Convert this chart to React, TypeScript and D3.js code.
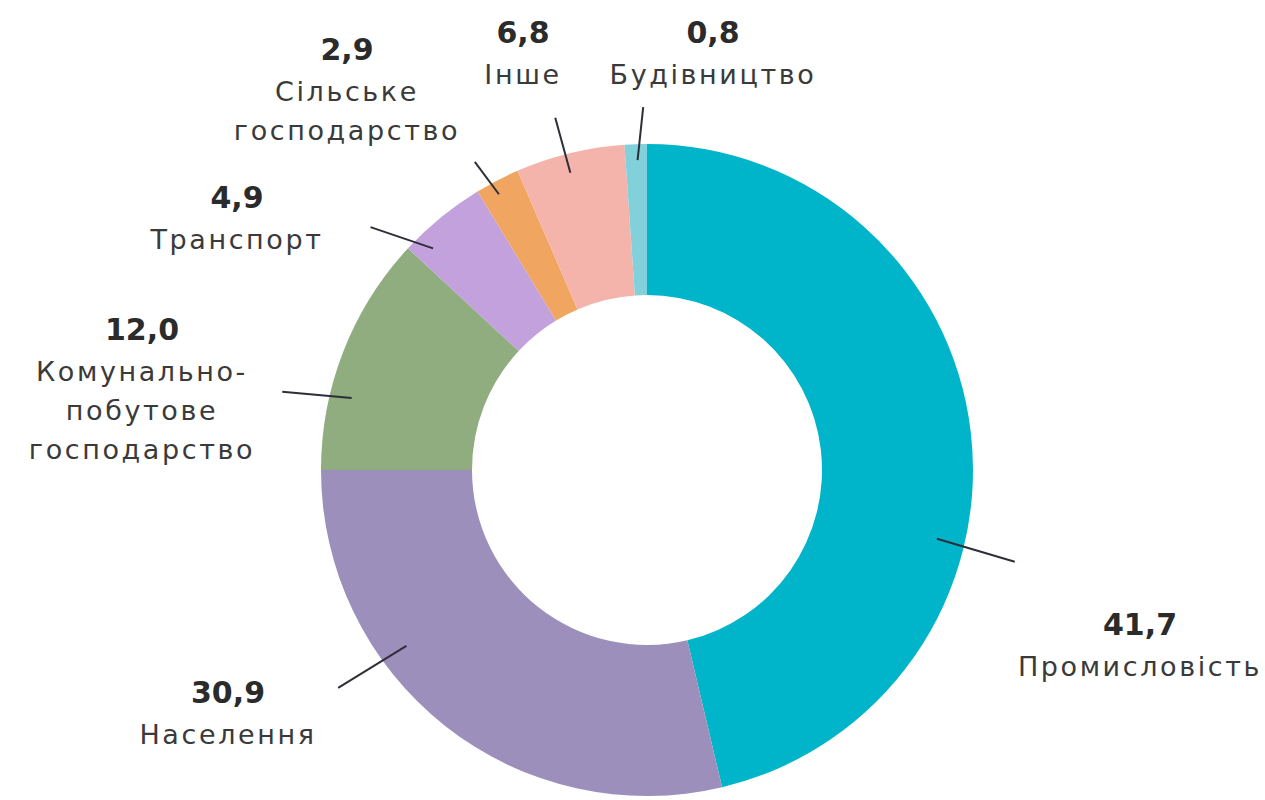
import React from "react";
import * as d3 from "d3";

// categories in drawing order (clockwise from 12 o'clock)
const categories = [
  "Промисловість",
  "Населення",
  "Комунально-побутове господарство",
  "Транспорт",
  "Сільське господарство",
  "Інше",
  "Будівництво",
];
// values printed in the labels
const labelValues = [41.7, 30.9, 12.0, 4.9, 2.9, 6.8, 0.8];
// share of the ring each slice takes in the picture
const arcShares = [46.3, 28.7, 11.9, 4.4, 2.2, 5.4, 1.1];
// label lines (category text split as in the picture)
const labelLines = [
  ["Промисловість"],
  ["Населення"],
  ["Комунально-", "побутове", "господарство"],
  ["Транспорт"],
  ["Сільське", "господарство"],
  ["Інше"],
  ["Будівництво"],
];

const colors = ["#00b4ca", "#9d8fbb", "#8fad7f", "#c3a1dc", "#f0a561", "#f5b4ab", "#82d0d9"];

// label placement: text anchor (number baseline) + leader line
const layout = [
  { x: 1140, y: 635, frac: 0.62, r0: 298, deg1: 104, r1: 379 },
  { x: 228, y: 703, frac: 0.65, r0: 298, deg1: 234.8, r1: 378 },
  { x: 142, y: 340, frac: 0.32, r0: 304, deg1: 282.1, r1: 373 },
  { x: 237, y: 208, frac: 0.2, r0: 308, deg1: 311.3, r1: 368 },
  { x: 347, y: 60, frac: 0.39, r0: 313, deg1: 330.8, r1: 353 },
  { x: 523, y: 43, frac: 0.46, r0: 307, deg1: 345.4, r1: 364 },
  { x: 713, y: 43, frac: 0.56, r0: 310, deg1: 359.4, r1: 363 },
];

const W = 1265;
const H = 800;
const cx = 647;
const cy = 470;
const outerR = 326;
const innerR = 175;
const FONT = "'DejaVu Sans', sans-serif";

const fmt = (v: number) => v.toFixed(1).replace(".", ",");

export default function App() {
  const pie = d3
    .pie<number>()
    .sort(null)
    .value((d) => d)
    .startAngle(0)
    .endAngle(2 * Math.PI);
  const arcs = pie(arcShares);
  const arc = d3.arc<d3.PieArcDatum<number>>().innerRadius(innerR).outerRadius(outerR);
  const toRad = (deg: number) => (deg * Math.PI) / 180;

  return (
    <>
      <style>{`body{margin:0}`}</style>
      <svg width={W} height={H} style={{ display: "block", background: "#fff" }}>
        <g transform={`translate(${cx},${cy})`}>
          {arcs.map((a, i) => (
            <path key={categories[i]} d={arc(a) ?? ""} fill={colors[i]} />
          ))}
          {arcs.map((a, i) => {
            const L = layout[i];
            const ang = a.startAngle + (a.endAngle - a.startAngle) * L.frac;
            const p0 = d3.pointRadial(ang, L.r0);
            const p1 = d3.pointRadial(toRad(L.deg1), L.r1);
            return (
              <line
                key={`l${i}`}
                x1={p0[0]}
                y1={p0[1]}
                x2={p1[0]}
                y2={p1[1]}
                stroke="#2e2e38"
                strokeWidth={2}
              />
            );
          })}
        </g>
        {categories.map((c, i) => {
          const L = layout[i];
          return (
            <g key={`t${i}`} fontFamily={FONT} textAnchor="middle">
              <text x={L.x} y={L.y} fontSize={30} fontWeight="bold" fill="#2b2b2b">
                {fmt(labelValues[i])}
              </text>
              {labelLines[i].map((ln, j) => (
                <text
                  key={ln}
                  x={L.x}
                  y={L.y + 41 + j * 39}
                  fontSize={27}
                  fill="#3a3a3a"
                  letterSpacing={2.6}
                >
                  {ln}
                </text>
              ))}
            </g>
          );
        })}
      </svg>
    </>
  );
}
